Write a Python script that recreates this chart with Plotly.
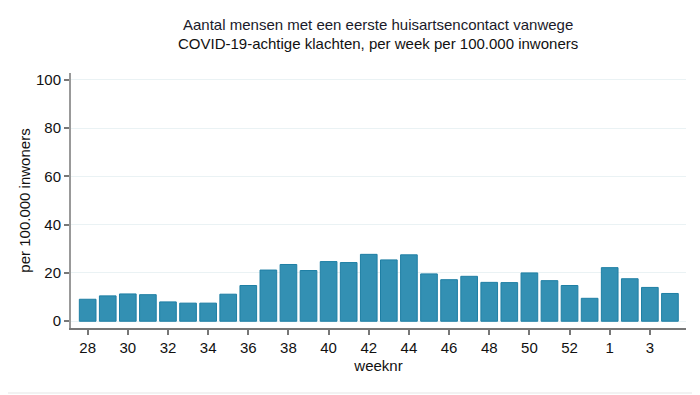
import plotly.graph_objects as go

weeks = ["28", "29", "30", "31", "32", "33", "34", "35", "36", "37", "38", "39", "40", "41",
         "42", "43", "44", "45", "46", "47", "48", "49", "50", "51", "52", "53", "1", "2", "3", "4"]
values = [9.1, 10.5, 11.3, 11.0, 8.0, 7.5, 7.5, 11.2, 14.8, 21.2, 23.5, 21.0, 24.7, 24.3,
          27.7, 25.4, 27.5, 19.6, 17.2, 18.6, 16.1, 16.0, 20.0, 16.8, 14.8, 9.5, 22.2, 17.6, 14.0, 11.5]
tick_weeks = ["28", "30", "32", "34", "36", "38", "40", "42", "44", "46", "48", "50", "52", "1", "3"]
y_ticks = [0, 20, 40, 60, 80, 100]
title_lines = ["Aantal mensen met een eerste huisartsencontact vanwege",
               "COVID-19-achtige klachten, per week per 100.000 inwoners"]

x_idx = list(range(len(weeks)))
tick_idx = [weeks.index(w) for w in tick_weeks]

fig = go.Figure()
fig.add_trace(go.Bar(
    x=x_idx, y=values, width=0.83,
    marker=dict(color="#3390b3", line=dict(color="#1f7fa4", width=1)),
    hovertext=weeks,
))

FF = "Liberation Sans, Arial, sans-serif"
font = dict(family=FF, size=15, color="#111")

# page has an 8px body margin, so figure coordinates are offset by 8px
W, H = 700, 395
L, T = 63, 65
PW, PH = 615, 255
R, B = W - L - PW, H - T - PH


def py(fy):
    return (T + PH - fy) / PH


def px(fx):
    return (fx - L) / PW


fig.update_layout(
    width=W, height=H,
    margin=dict(l=L, r=R, t=T, b=B, autoexpand=False),
    paper_bgcolor="white", plot_bgcolor="white",
    font=font,
    showlegend=False,
    xaxis=dict(
        range=[-0.83, 29.8], automargin=False,
        tickmode="array", tickvals=tick_idx, ticktext=tick_weeks,
        showgrid=False, zeroline=False,
        showline=True, linecolor="#777", linewidth=2,
        ticks="outside", ticklen=5, tickcolor="#777", tickwidth=2,
        title=dict(text="weeknr", standoff=5, font=font),
        fixedrange=True,
    ),
    yaxis=dict(
        range=[-2.8, 102.8], automargin=False,
        tickmode="array", tickvals=y_ticks,
        showgrid=True, gridcolor="#eaf2f4", gridwidth=1,
        zeroline=False,
        showline=True, linecolor="#999", linewidth=2,
        ticks="outside", ticklen=5, tickcolor="#777", tickwidth=2,
        title=dict(text="per 100.000 inwoners", standoff=2, font=font),
        fixedrange=True,
    ),
    annotations=[
        dict(text=title_lines[0], xref="paper", yref="paper", x=px(370), y=py(16.5),
             xanchor="center", yanchor="middle", showarrow=False,
             font=dict(family=FF, size=15, color="#1a1a2a")),
        dict(text=title_lines[1], xref="paper", yref="paper", x=px(370), y=py(35.5),
             xanchor="center", yanchor="middle", showarrow=False,
             font=dict(family=FF, size=15, color="#111")),
    ],
    shapes=[
        dict(type="line", xref="paper", yref="paper",
             x0=px(689), x1=px(689), y0=py(0), y1=py(395),
             line=dict(color="#eeeeee", width=1.5)),
        dict(type="line", xref="paper", yref="paper",
             x0=px(0), x1=px(690), y0=py(385), y1=py(385),
             line=dict(color="#eeeeee", width=1.5)),
    ],
)

fig.write_html("out.html")
